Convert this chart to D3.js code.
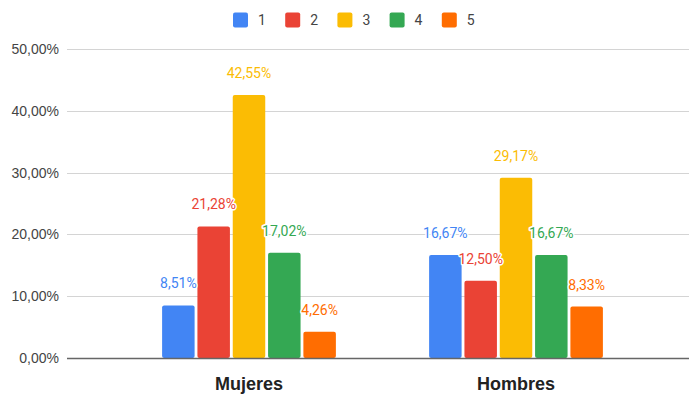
<!DOCTYPE html>
<html>
<head>
<meta charset="utf-8">
<script src="https://cdn.jsdelivr.net/npm/d3@7"></script>
<style>
  html, body { margin: 0; padding: 0; background: #fff; }
  svg { display: block; }
</style>
</head>
<body>
<svg id="chart" width="689" height="394"></svg>
<script>
const categories = ["Mujeres", "Hombres"];
const seriesNames = ["1", "2", "3", "4", "5"];
const seriesColors = ["#4285F4", "#EA4335", "#FBBC04", "#34A853", "#FF6D01"];
const values1 = [0.0851, 0.1667];
const values2 = [0.2128, 0.1250];
const values3 = [0.4255, 0.2917];
const values4 = [0.1702, 0.1667];
const values5 = [0.0426, 0.0833];
const yTicks = [0, 0.1, 0.2, 0.3, 0.4, 0.5];

const seriesValues = [values1, values2, values3, values4, values5];

const locale = d3.formatLocale({ decimal: ",", thousands: ".", grouping: [3], currency: ["", "€"] });
const fmt = locale.format(".2%");

const svg = d3.select("#chart");

const y = d3.scaleLinear().domain([0, 0.5]).range([358, 49]);
const x0 = d3.scaleBand().domain(categories).range([71.7, 693.3]).padding(0.328);
const x1 = d3.scaleBand().domain(seriesNames).range([0, x0.bandwidth()]).padding(0.08);
const color = d3.scaleOrdinal().domain(seriesNames).range(seriesColors);

// gridlines
svg.append("g")
  .selectAll("line")
  .data(yTicks.filter(d => d > 0))
  .join("line")
  .attr("x1", 67).attr("x2", 689)
  .attr("y1", d => Math.round(y(d)) + 0.5).attr("y2", d => Math.round(y(d)) + 0.5)
  .attr("stroke", "#d4d4d4").attr("stroke-width", 1);

// y tick labels
svg.append("g")
  .selectAll("text")
  .data(yTicks)
  .join("text")
  .attr("x", 59)
  .attr("y", d => y(d))
  .attr("dy", "0.35em")
  .attr("text-anchor", "end")
  .attr("font-family", "Arial, 'Liberation Sans', sans-serif")
  .attr("font-size", 14)
  .attr("fill", "#444")
  .text(d => fmt(d));

// bars
const flat = [];
categories.forEach((c, ci) => {
  seriesNames.forEach((s, si) => {
    flat.push({ cat: c, series: s, value: seriesValues[si][ci] });
  });
});

const gBars = svg.append("g");
gBars.selectAll("rect")
  .data(flat)
  .join("rect")
  .attr("x", d => x0(d.cat) + x1(d.series))
  .attr("y", d => y(d.value))
  .attr("width", x1.bandwidth())
  .attr("height", d => y(0) - y(d.value))
  .attr("rx", 2)
  .attr("fill", d => color(d.series));

// baseline
svg.append("line")
  .attr("x1", 67).attr("x2", 689)
  .attr("y1", y(0) + 0.5).attr("y2", y(0) + 0.5)
  .attr("stroke", "#666").attr("stroke-width", 1.5);

// data labels
svg.append("g")
  .selectAll("text")
  .data(flat)
  .join("text")
  .attr("x", d => x0(d.cat) + x1(d.series) + x1.bandwidth() / 2)
  .attr("y", d => y(d.value) - 17)
  .attr("text-anchor", "middle")
  .attr("font-family", "Roboto, Arial, sans-serif")
  .attr("font-size", 14)
  .attr("fill", d => color(d.series))
  .attr("stroke", "#fff")
  .attr("stroke-width", 3)
  .attr("stroke-linejoin", "round")
  .attr("paint-order", "stroke")
  .text(d => fmt(d.value));

// category labels
svg.append("g")
  .selectAll("text")
  .data(categories)
  .join("text")
  .attr("x", d => x0(d) + x0.bandwidth() / 2)
  .attr("y", 390)
  .attr("text-anchor", "middle")
  .attr("font-family", "Arial, 'Liberation Sans', sans-serif")
  .attr("font-weight", "bold")
  .attr("font-size", 18)
  .attr("fill", "#222")
  .text(d => d);

// legend
const legend = svg.append("g");
const items = legend.selectAll("g")
  .data(seriesNames)
  .join("g")
  .attr("transform", (d, i) => `translate(${233 + i * 52.2}, 12.5)`);
items.append("rect")
  .attr("width", 15).attr("height", 15).attr("rx", 2)
  .attr("fill", d => color(d));
items.append("text")
  .attr("x", 25)
  .attr("y", 12.5)
  .attr("font-family", "Roboto, Arial, sans-serif")
  .attr("font-size", 14)
  .attr("fill", "#444")
  .text(d => d);
</script>
</body>
</html>
